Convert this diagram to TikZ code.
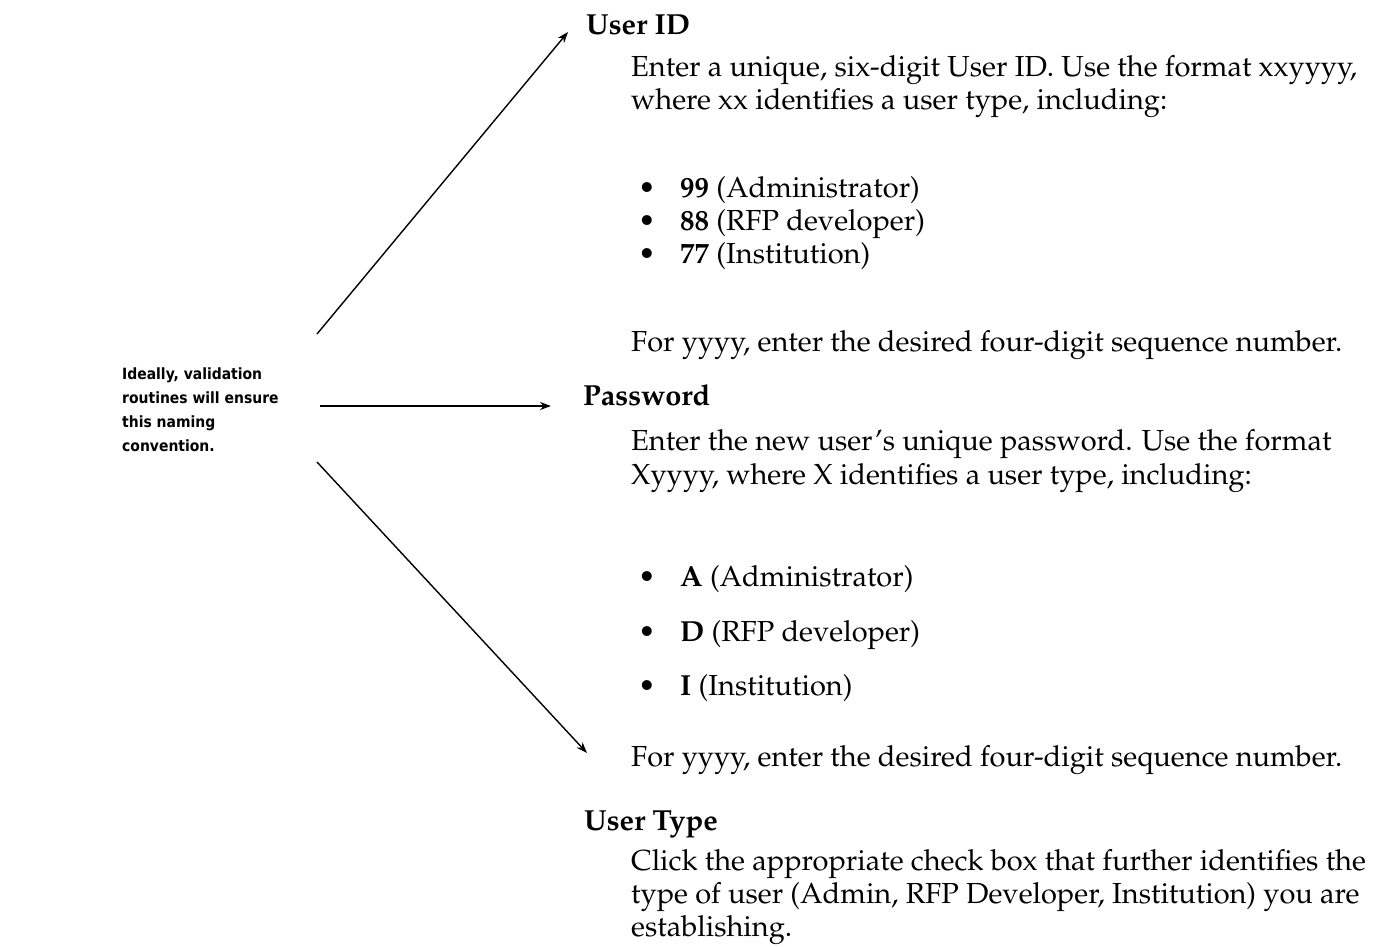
\documentclass[tikz,border=0pt]{standalone}
\usepackage[T1]{fontenc}
\usepackage{fontspec}
\newfontfamily\calloutfont{DejaVu Sans Condensed}
% Palatino-style body face
\IfFileExists{t1ppl.fd}
  {\newcommand\palfont{\fontencoding{T1}\fontfamily{ppl}\selectfont}}
  {\newfontfamily\palfont{Liberation Serif}}
\usetikzlibrary{arrows.meta}

\tikzset{
  body/.style={anchor=base west, inner sep=0pt, font=\palfont\fontsize{29}{34}\selectfont},
  head/.style={anchor=base west, inner sep=0pt, font=\palfont\bfseries\fontsize{29}{34}\selectfont},
  dot/.style={anchor=base west, inner sep=0pt, font=\palfont\fontsize{29}{34}\selectfont},
  note/.style={anchor=base west, inner sep=0pt, font=\calloutfont\bfseries\fontsize{15.5}{24}\selectfont},
  pointer/.style={-{Stealth[length=11pt,width=8pt]}, line width=1.4pt}
}

\begin{document}
\begin{tikzpicture}[x=1pt,y=-1pt]
  \useasboundingbox (0,0) rectangle (1390,947);

  % callout text on the left
  \node[note] (n1) at (122,379) {Ideally, validation};
  \node[note] (n2) at (122,403) {routines will ensure};
  \node[note] (n3) at (122,427) {this naming};
  \node[note] (n4) at (122,451) {convention.};

  % User ID field
  \node[head] (uid) at (586,35) {User ID};
  \node[body] (u1) at (631,77) {Enter a unique, six-digit User ID. Use the format xxyyyy,};
  \node[body] (u2) at (631,110) {where xx identifies a user type, including:};
  \node[dot] (ub1) at (638,197) {\textbullet};
  \node[body] (ui1) at (680,197) {\textbf{99} (Administrator)};
  \node[dot] (ub2) at (638,230) {\textbullet};
  \node[body] (ui2) at (680,230) {\textbf{88} (RFP developer)};
  \node[dot] (ub3) at (638,263) {\textbullet};
  \node[body] (ui3) at (680,263) {\textbf{77} (Institution)};
  \node[body] (u3) at (631,351) {For yyyy, enter the desired four-digit sequence number.};

  % Password field
  \node[head] (pw) at (583,405) {Password};
  \node[body] (p1) at (631,450) {Enter the new user's unique password. Use the format};
  \node[body] (p2) at (631,484) {Xyyyy, where X identifies a user type, including:};
  \node[dot] (pb1) at (638,586) {\textbullet};
  \node[body] (pi1) at (680,586) {\textbf{A} (Administrator)};
  \node[dot] (pb2) at (638,641) {\textbullet};
  \node[body] (pi2) at (680,641) {\textbf{D} (RFP developer)};
  \node[dot] (pb3) at (638,695) {\textbullet};
  \node[body] (pi3) at (680,695) {\textbf{I} (Institution)};
  \node[body] (p3) at (631,766) {For yyyy, enter the desired four-digit sequence number.};

  % User Type field
  \node[head] (ut) at (584,830) {User Type};
  \node[body] (t1) at (631,870) {Click the appropriate check box that further identifies the};
  \node[body] (t2) at (631,903) {type of user (Admin, RFP Developer, Institution) you are};
  \node[body] (t3) at (631,936) {establishing.};

  % arrows from the callout to the fields
  \coordinate (sa) at (317,334);
  \coordinate (sb) at (320,406);
  \coordinate (sc) at (317,462);
  \coordinate (ea) at (568,32);
  \coordinate (eb) at (551,406);
  \coordinate (ec) at (587,753);
  \draw[pointer] (sa) -- (ea);
  \draw[pointer] (sb) -- (eb);
  \draw[pointer] (sc) -- (ec);
\end{tikzpicture}
\end{document}
